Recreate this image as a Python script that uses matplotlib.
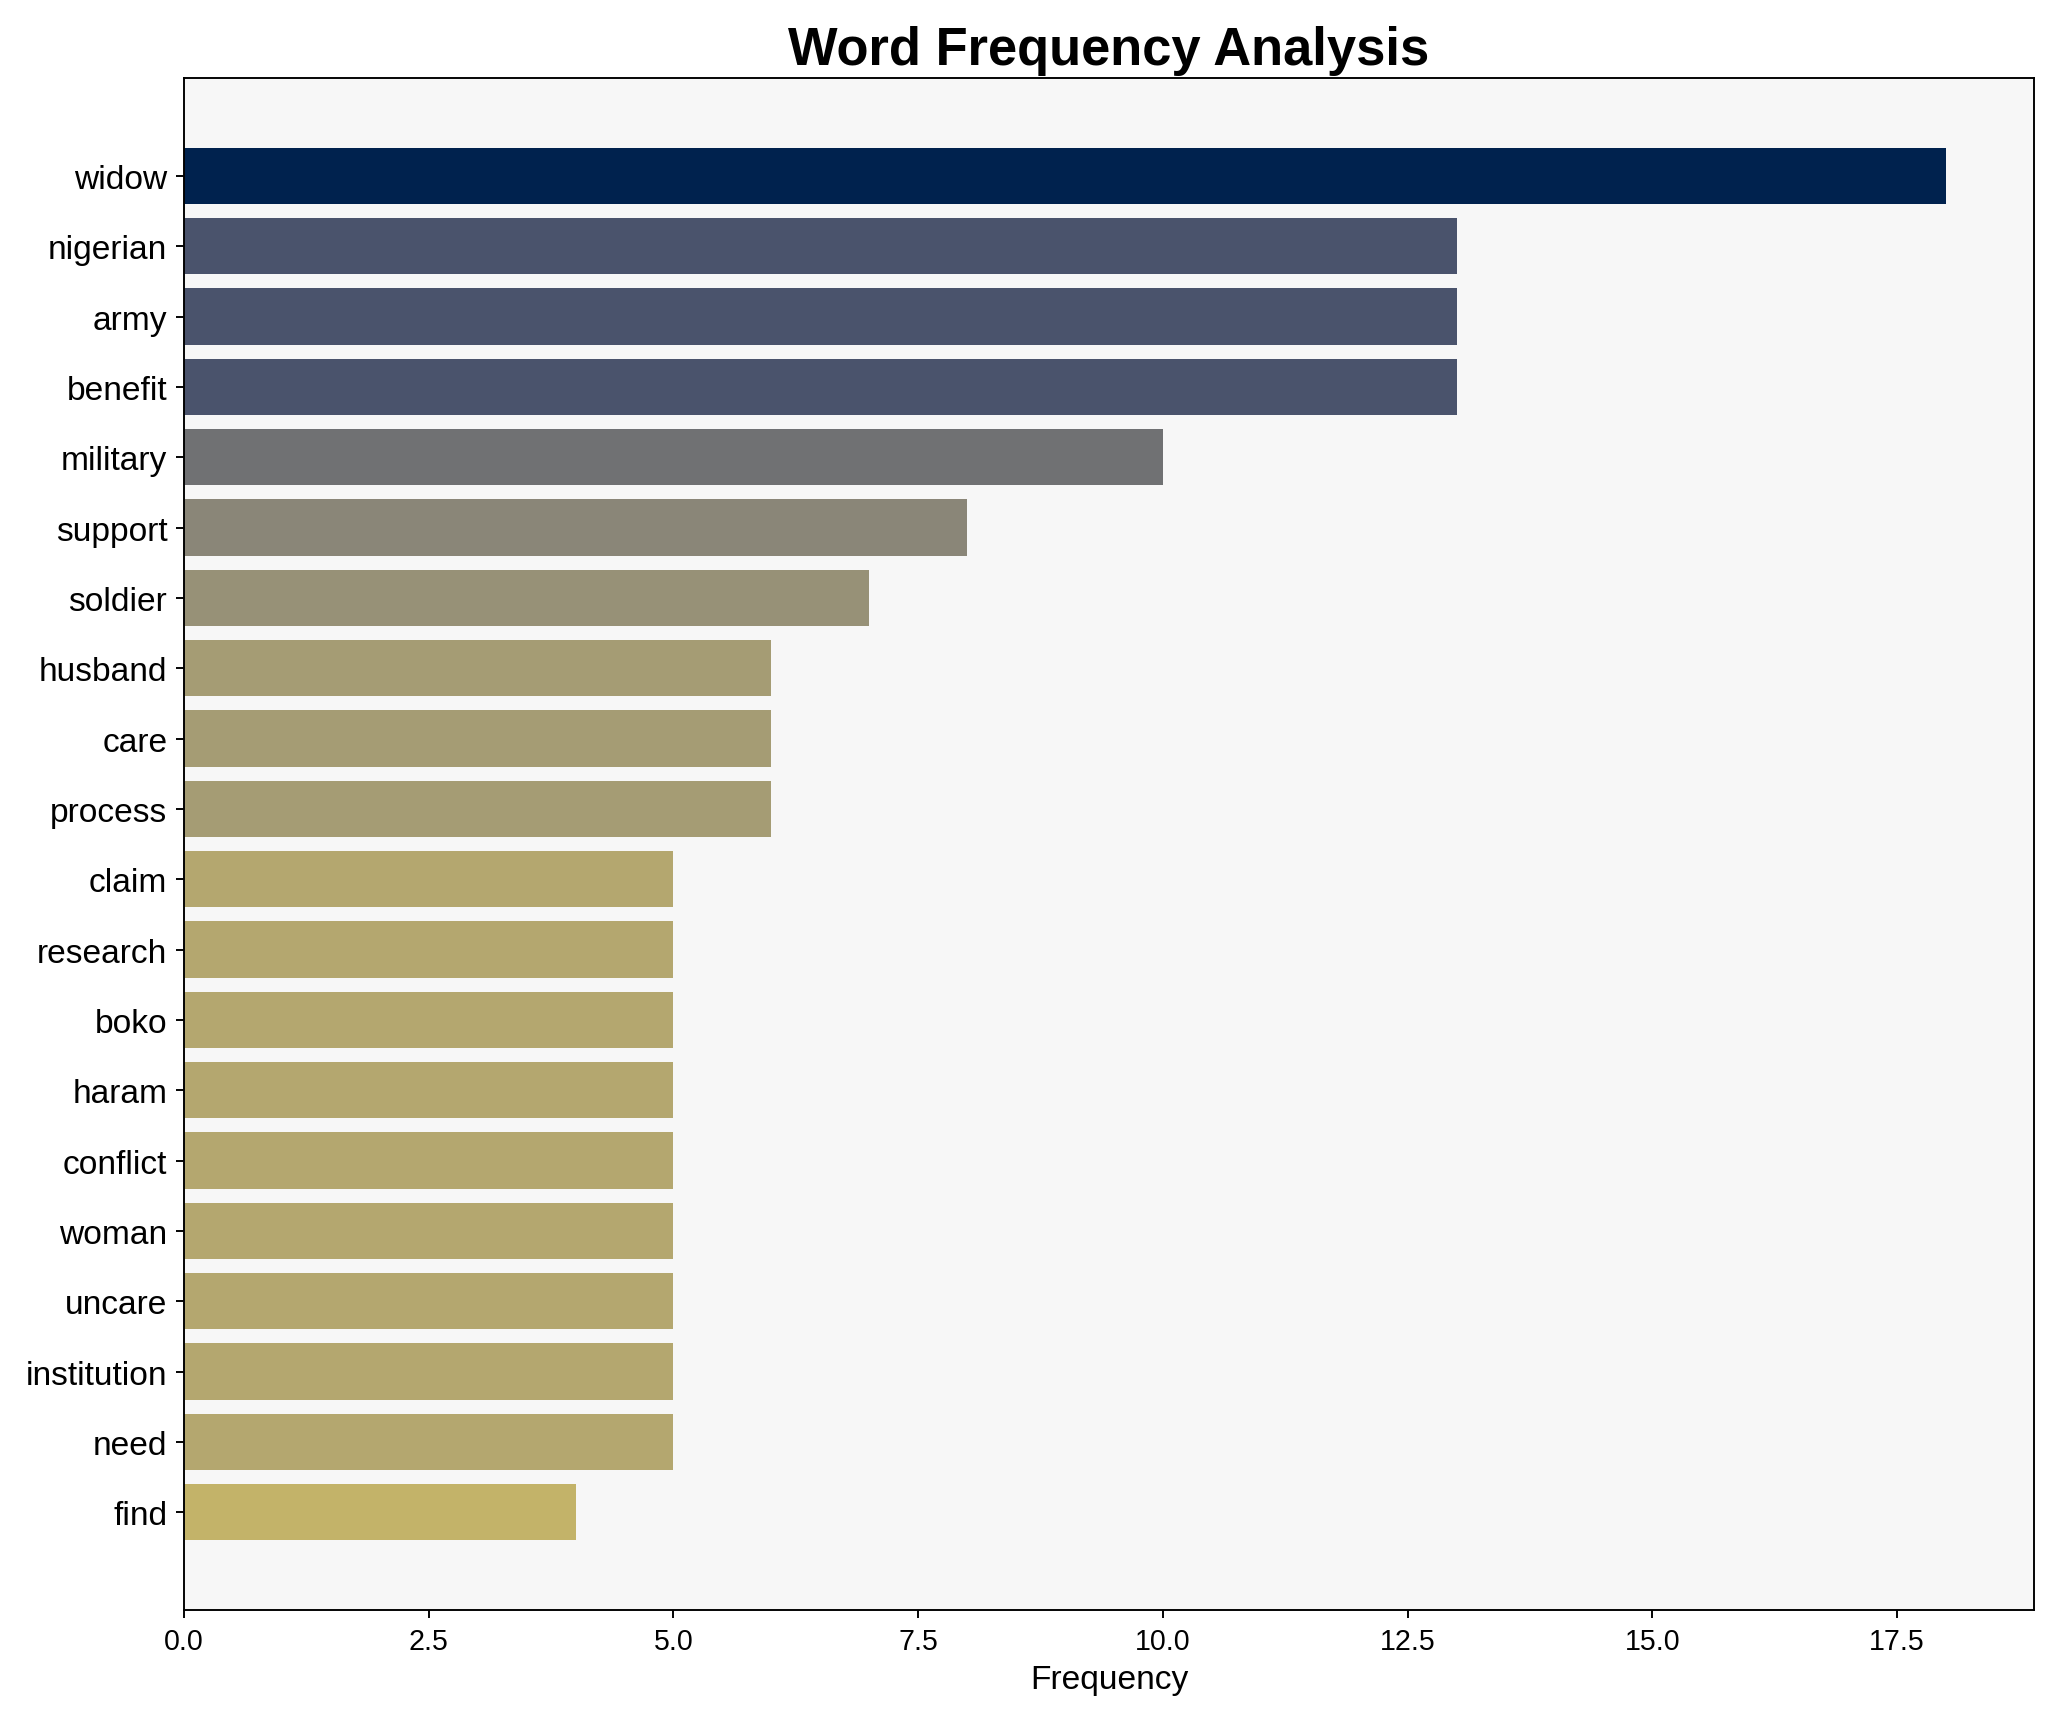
import numpy as np
import matplotlib
matplotlib.use("Agg")
import matplotlib.pyplot as plt

plt.rcParams['font.family'] = ['Liberation Sans', 'DejaVu Sans']

words = ['widow', 'nigerian', 'army', 'benefit', 'military', 'support', 'soldier',
         'husband', 'care', 'process', 'claim', 'research', 'boko', 'haram',
         'conflict', 'woman', 'uncare', 'institution', 'need', 'find']
freqs = [18, 13, 13, 13, 10, 8, 7, 6, 6, 6, 5, 5, 5, 5, 5, 5, 5, 5, 5, 4]

freqs = np.array(freqs)
colors = plt.cm.cividis(1 - freqs / freqs.max())

fig, ax = plt.subplots(figsize=(2060 / 172, 1722 / 172), dpi=172)
ax.set_facecolor('#f7f7f7')
ax.barh(words, freqs, color=colors)
ax.invert_yaxis()
ax.set_title('Word Frequency Analysis', fontsize=22, fontweight='bold')
ax.set_xlabel('Frequency', fontsize=14)
ax.tick_params(axis='y', labelsize=14)
ax.tick_params(axis='x', labelsize=12)
plt.tight_layout()
plt.savefig('out.png', dpi=172)
